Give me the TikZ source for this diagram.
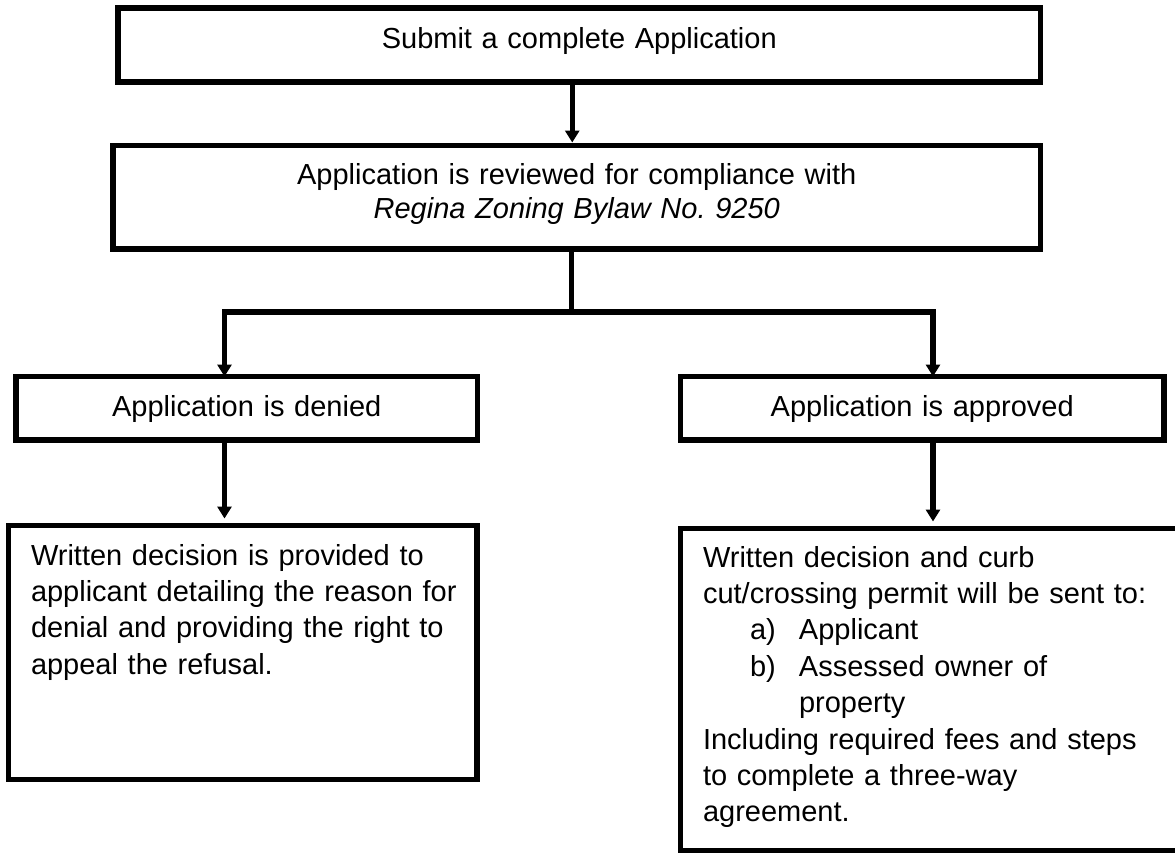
\documentclass[tikz,border=0pt]{standalone}
\usepackage{fontspec}
\setmainfont{Liberation Sans}
\usetikzlibrary{arrows.meta}

\tikzset{
  box/.style={draw, line width=5.5pt, inner ysep=0pt, outer sep=0pt, anchor=north west},
  link/.style={line width=5.5pt},
  arr/.style={link, -{Triangle[width=14pt,length=12pt]}}
}

\begin{document}
\begin{tikzpicture}[x=1pt, y=-1pt, font=\fontsize{29}{36.4}\selectfont]
\useasboundingbox (0,0) rectangle (1175,852);
\clip (0,0) rectangle (1175,852);

\node[box, inner xsep=0pt, text width=922.5pt, align=center, text height=40pt, text depth=34pt]
  (submit) at (118,8) {Submit a complete Application};
\node[box, inner xsep=0pt, text width=927.5pt, align=center, text height=38.5pt, text depth=65pt]
  (review) at (113,145.5) {Application is reviewed for compliance with\\[-2.4pt] \textit{Regina Zoning Bylaw No.\ 9250}};

\node[box, inner xsep=0pt, text width=461.5pt, align=center, text height=39.5pt, text depth=24pt]
  (denied) at (16,376.5) {Application is denied};
\node[box, inner xsep=0pt, text width=483.5pt, align=center, text height=39.5pt, text depth=24pt]
  (approved) at (680.5,376.5) {Application is approved};

\node[box, inner xsep=22.5pt, text width=423.5pt, align=left, text height=39.5pt, text depth=214.5pt]
  (refusal) at (8.5,525.5) {Written decision is provided to\\ \mbox{applicant detailing the reason for}\\ denial and providing the right to\\ appeal the refusal.};
\node[box, inner xsep=22.5pt, text width=470pt, align=left, text height=38.5pt, text depth=284pt]
  (permit) at (680.5,528.5) {Written decision and curb\\ cut/crossing permit will be sent to:\\
  \hspace*{47pt}\makebox[49pt][l]{a)}Applicant\\
  \hspace*{47pt}\makebox[49pt][l]{b)}Assessed owner of\\
  \hspace*{96pt}property\\
  Including required fees and steps\\ to complete a three-way\\ agreement.};

\coordinate (t1) at ([xshift=-7pt]submit.south);
\coordinate (split) at (571.5,312);
\coordinate (dl) at (224.5,312);
\coordinate (dr) at (933,312);

\draw[arr, shorten >=3pt] (t1) -- (t1 |- review.north);
\draw[link] (split |- review.south) -- (split);
\draw[arr] (split) -- (dl) -- (dl |- denied.north);
\draw[arr] (split) -- (dr) -- (dr |- approved.north);
\draw[arr, shorten >=7pt] (dl |- denied.south) -- (dl |- refusal.north);
\draw[arr, shorten >=7pt] (dr |- approved.south) -- (dr |- permit.north);
\end{tikzpicture}
\end{document}
